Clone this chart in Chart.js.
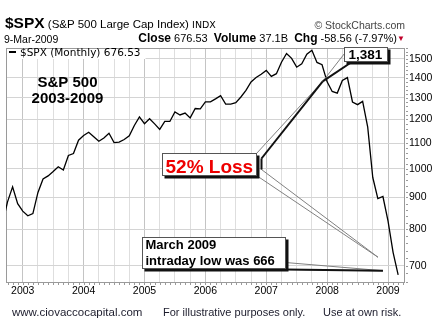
<!DOCTYPE html>
<html>
<head>
<meta charset="utf-8">
<script src="https://cdn.jsdelivr.net/npm/chart.js@4.4.1/dist/chart.umd.min.js"></script>
<style>
  html, body { margin: 0; padding: 0; background: #fff; }
  #wrap { position: relative; width: 440px; height: 334px; overflow: hidden;
          font-family: "Liberation Sans", Arial, sans-serif; color: #000; }
  #chart { position: absolute; left: 0; top: 0; }
  .txt { position: absolute; white-space: nowrap; }
  .foot { font-size: 11.5px; line-height: 14px; top: 305px; color: #1c1c2c; }
</style>
</head>
<body>
<div id="wrap">
  <canvas id="chart" width="440" height="334"></canvas>

  <div class="txt" style="left:5px; top:15px; font-size:15px; line-height:15px;">
    <b style="font-size:15.5px">$SPX</b><span style="font-size:11.5px"> (S&amp;P 500 Large Cap Index) </span><span style="font-size:9.5px; font-family:'DejaVu Sans'">INDX</span>
  </div>
  <div class="txt" style="right:35px; top:18px; font-size:10.5px; line-height:15px; color:#444;">&copy; StockCharts.com</div>

  <div class="txt" style="left:4px; top:31.5px; font-size:10.5px; line-height:14px;">9-Mar-2009</div>
  <div class="txt" style="right:43px; top:31px; font-size:11px; line-height:14px;">
    <b style="font-size:12px">Close</b> 676.53&nbsp; <b style="font-size:12px">Volume</b> 37.1B&nbsp; <b style="font-size:12px">Chg</b> -58.56 (-7.97%)
  </div>
  <div class="txt" style="right:35px; top:33px; font-size:8px; line-height:12px; color:#c0002a;">&#9660;</div>

  <div class="txt foot" style="left:12px;">www.ciovaccocapital.com</div>
  <div class="txt foot" style="left:163px; font-size:11px;">For illustrative purposes only.</div>
  <div class="txt foot" style="left:323px; font-size:11px;">Use at own risk.</div>
</div>

<script>
// S&P 500 monthly closes, Sep 2002 - 9 Mar 2009
const monthKeys = [
  '2002-09','2002-10','2002-11','2002-12',
  '2003-01','2003-02','2003-03','2003-04','2003-05','2003-06','2003-07','2003-08','2003-09','2003-10','2003-11','2003-12',
  '2004-01','2004-02','2004-03','2004-04','2004-05','2004-06','2004-07','2004-08','2004-09','2004-10','2004-11','2004-12',
  '2005-01','2005-02','2005-03','2005-04','2005-05','2005-06','2005-07','2005-08','2005-09','2005-10','2005-11','2005-12',
  '2006-01','2006-02','2006-03','2006-04','2006-05','2006-06','2006-07','2006-08','2006-09','2006-10','2006-11','2006-12',
  '2007-01','2007-02','2007-03','2007-04','2007-05','2007-06','2007-07','2007-08','2007-09','2007-10','2007-11','2007-12',
  '2008-01','2008-02','2008-03','2008-04','2008-05','2008-06','2008-07','2008-08','2008-09','2008-10','2008-11','2008-12',
  '2009-01','2009-02','2009-03'
];
const closes = [
  815.3, 885.8, 936.3, 879.8,
  855.7, 841.2, 848.2, 916.9, 963.6, 974.5, 990.3, 1008.0, 996.0, 1050.7, 1058.2, 1111.9,
  1131.1, 1144.9, 1126.2, 1107.3, 1120.7, 1140.8, 1101.7, 1104.2, 1114.6, 1130.2, 1173.8, 1211.9,
  1181.3, 1203.6, 1180.6, 1156.9, 1191.5, 1191.3, 1234.2, 1220.3, 1228.8, 1207.0, 1249.5, 1248.3,
  1280.1, 1280.7, 1294.8, 1310.6, 1270.1, 1270.2, 1276.7, 1303.8, 1335.9, 1377.9, 1400.6, 1418.3,
  1438.2, 1406.8, 1420.9, 1482.4, 1530.6, 1503.4, 1455.3, 1474.0, 1526.8, 1549.4, 1481.1, 1468.4,
  1378.6, 1330.6, 1322.7, 1385.6, 1400.4, 1280.0, 1267.4, 1282.8, 1166.4, 968.8, 896.2, 903.3,
  825.9, 735.1, 676.5
];
const priceTicks = [700, 800, 900, 1000, 1100, 1200, 1300, 1400, 1500];
const yearLabels = ['2003', '2004', '2005', '2006', '2007', '2008', '2009'];

// months counted from Jan 2003
function monthIndex(key) {
  const [y, m] = key.split('-').map(Number);
  return (y - 2003) * 12 + (m - 1);
}
const points = monthKeys.map((k, i) => ({ x: monthIndex(k), y: closes[i] }));

// quarterly grid, labels on January
const xTicks = [];
for (let q = 0; q <= 72; q += 3) xTicks.push(q);

const FONT = '"Liberation Sans", Arial, sans-serif';

// text boxes with callouts, anchored in (month, price)
const notes = [
  { lines: ['1,381'], font: 'bold 13.5px ' + FONT, color: '#000', at: { x: 63.33, y: 1568 }, w: 43, h: 14, pad: 4, base: [11],
    tips: [{ x: 59.13, y: 1381 }], kind: 'corner' },
  { lines: ['52% Loss'], font: 'bold 19px ' + FONT, color: '#ee0000', at: { x: 27.45, y: 1061 }, w: 94, h: 22, pad: 3, base: [19],
    tips: [{ x: 59.13, y: 1381 }, { x: 70.03, y: 722 }], kind: 'double' },
  { lines: ['March 2009', 'intraday low was 666'], font: 'bold 13px ' + FONT, color: '#000', at: { x: 23.51, y: 778 }, w: 143, h: 31, pad: 3, base: [11, 27],
    tips: [{ x: 71.0, y: 687 }], kind: 'right' }
];

const overlay = {
  id: 'overlay',
  beforeDatasetsDraw(chart) {
    const { ctx, chartArea: a, scales } = chart;
    ctx.save();
    ctx.strokeStyle = '#9a9a9a';
    ctx.lineWidth = 1;
    ctx.strokeRect(a.left + 0.5, a.top + 0.5, a.right - a.left - 1, a.bottom - a.top);
    // minor ticks: months on bottom, 20-pt steps on right
    ctx.beginPath();
    for (let m = -3; m <= 75; m++) {
      const x = Math.round(scales.x.getPixelForValue(m)) + 0.5;
      ctx.moveTo(x, a.bottom + 1);
      ctx.lineTo(x, a.bottom + 3);
    }
    for (let v = 660; v <= 1560; v += 20) {
      const y = Math.round(scales.y.getPixelForValue(v)) + 0.5;
      ctx.moveTo(a.right + 1, y);
      ctx.lineTo(a.right + 3, y);
    }
    ctx.stroke();
    ctx.restore();
  },
  afterDatasetsDraw(chart) {
    const { ctx, chartArea: a, scales } = chart;
    const px = v => scales.x.getPixelForValue(v);
    const py = v => scales.y.getPixelForValue(v);
    ctx.save();

    // legend
    ctx.font = '10.5px "DejaVu Sans", Verdana, sans-serif';
    const legendText = '$SPX (Monthly) 676.53';
    const lw = ctx.measureText(legendText).width;
    ctx.fillStyle = '#fff';
    ctx.fillRect(a.left + 1, a.top + 1, lw + 18, 10);
    ctx.fillStyle = '#000';
    ctx.fillRect(a.left + 3, a.top + 3, 7, 2);
    ctx.textBaseline = 'alphabetic';
    ctx.fillText(legendText, a.left + 14, a.top + 7.5);

    // title note
    ctx.font = 'bold 15px ' + FONT;
    ctx.textAlign = 'center';
    ctx.fillText('S&P 500', px(8.82), py(1353));
    ctx.fillText('2003-2009', px(8.82), py(1273));
    ctx.textAlign = 'left';

    notes.forEach(n => {
      const x0 = Math.round(px(n.at.x)) + 0.5, y0 = Math.round(py(n.at.y)) + 0.5;
      const x1 = x0 + n.w, y1 = y0 + n.h;
      const tips = n.tips.map(t => ({ x: px(t.x), y: py(t.y) }));
      let shape, dark;
      if (n.kind === 'corner') {
        const A = { x: x0, y: y0 + 6 }, B = { x: x0 + 8, y: y1 };
        shape = [A, tips[0], B];
        dark = [[B, tips[0]]];
      } else if (n.kind === 'double') {
        const A = { x: x1, y: y0 }, B = { x: x1 + 5, y: y0 + 5 }, C = { x: x1 + 5, y: y1 - 6 }, D = { x: x1, y: y1 };
        shape = [A, tips[0], B, C, tips[1], D];
        dark = [[tips[0], B], [B, C]];
      } else {
        const A = { x: x1, y: y1 - 6 }, B = { x: x1, y: y1 + 1 };
        shape = [A, tips[0], B];
        dark = [[B, tips[0]]];
      }
      // callout outline
      ctx.beginPath();
      ctx.moveTo(shape[0].x, shape[0].y);
      shape.slice(1).forEach(p => ctx.lineTo(p.x, p.y));
      ctx.closePath();
      ctx.strokeStyle = '#808080';
      ctx.lineWidth = 1;
      ctx.stroke();
      ctx.strokeStyle = '#111';
      ctx.lineWidth = 2;
      dark.forEach(([p, q]) => { ctx.beginPath(); ctx.moveTo(p.x, p.y); ctx.lineTo(q.x, q.y); ctx.stroke(); });

      // box with drop shadow
      ctx.fillStyle = '#111';
      ctx.fillRect(x0 + 2, y0 + 2, n.w + 1, n.h + 1);
      ctx.fillStyle = '#fff';
      ctx.fillRect(x0, y0, n.w, n.h);
      ctx.strokeStyle = '#555';
      ctx.lineWidth = 1;
      ctx.strokeRect(x0, y0, n.w, n.h);

      ctx.font = n.font;
      ctx.fillStyle = n.color;
      n.lines.forEach((t, i) => ctx.fillText(t, x0 + n.pad, y0 + n.base[i]));
    });
    ctx.restore();
  }
};

new Chart(document.getElementById('chart'), {
  type: 'line',
  data: {
    datasets: [{
      data: points,
      borderColor: '#000',
      borderWidth: 1.3,
      pointRadius: 0,
      tension: 0,
      fill: false
    }]
  },
  options: {
    responsive: false,
    animation: false,
    events: [],
    layout: { padding: { top: 48, left: 6, right: 0, bottom: 32 } },
    plugins: { legend: { display: false }, tooltip: { enabled: false } },
    scales: {
      x: {
        type: 'linear',
        min: -3.3,
        max: 75.35,
        afterBuildTicks: s => { s.ticks = xTicks.map(v => ({ value: v })); },
        afterFit: s => { s.height = 20; },
        border: { display: false },
        grid: {
          drawTicks: false,
          color: c => (c.tick && c.tick.value % 12 === 0) ? '#c4c4c4' : '#dedede'
        },
        ticks: {
          autoSkip: false,
          maxRotation: 0,
          padding: 3,
          color: '#000',
          font: { family: FONT, size: 10.5 },
          callback: v => (v % 12 === 0 ? yearLabels[v / 12] : '')
        }
      },
      y: {
        type: 'logarithmic',
        position: 'right',
        min: 659,
        max: 1562,
        afterBuildTicks: s => { s.ticks = priceTicks.map(v => ({ value: v })); },
        afterFit: s => { s.width = 35; },
        border: { display: false },
        grid: { drawTicks: false, color: '#d4d4d4' },
        ticks: {
          autoSkip: false,
          padding: 4,
          color: '#000',
          font: { family: FONT, size: 10.5 },
          callback: v => String(v)
        }
      }
    }
  },
  plugins: [overlay]
});
</script>
</body>
</html>
